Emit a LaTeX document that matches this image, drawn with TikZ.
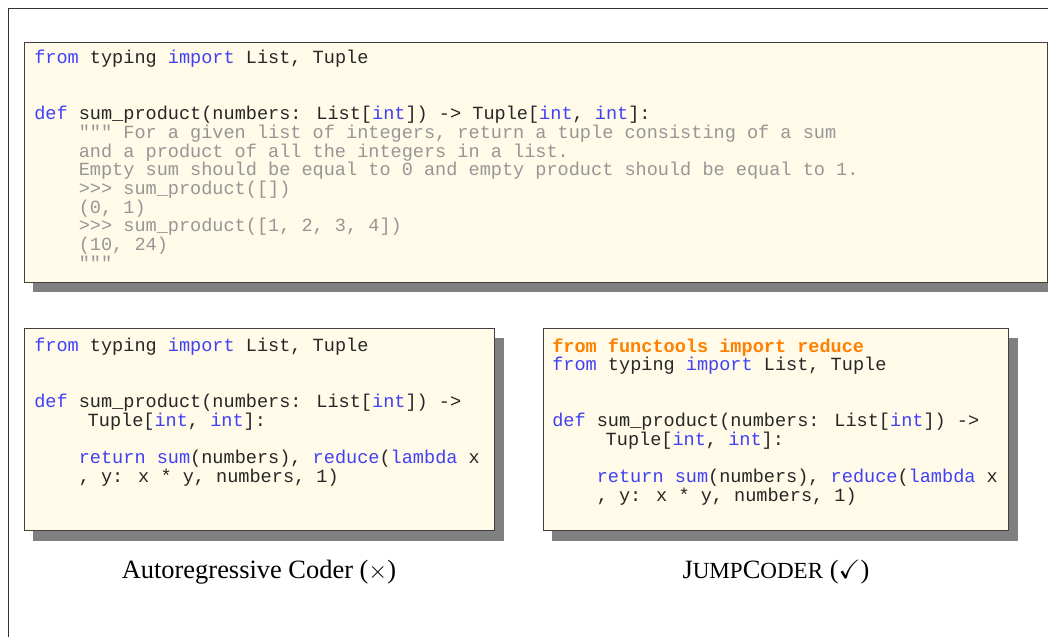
\documentclass[tikz,border=0pt]{standalone}
\usepackage{amssymb}
\usepackage{fontspec}
\setmainfont{Liberation Serif}
\newfontfamily\codefont{Liberation Mono}
\usetikzlibrary{shadows}

\definecolor{kwblue}{RGB}{64,64,245}
\definecolor{docgray}{RGB}{150,150,150}
\definecolor{addorange}{RGB}{255,128,0}
\definecolor{paper}{RGB}{255,251,232}

\newlength\codech
\setlength\codech{7.92pt}
\newcommand{\kw}[1]{\textcolor{kwblue}{#1}}
\newcommand{\ind}[1]{\hspace*{#1\codech}}

\tikzset{
  codebox/.style={draw=black!75, line width=0.7pt, fill=paper, inner sep=0pt, anchor=north west,
    drop shadow={shadow xshift=0.225cm, shadow yshift=-0.24cm, opacity=1, fill=black!50}},
  code/.style={font={\codefont\fontsize{13.2pt}{13.28pt}\selectfont}, text=black!85, align=left, inner sep=0pt, anchor=north west},
  caption/.style={font={\fontsize{18.8pt}{23pt}\selectfont}, anchor=base}
}

\begin{document}
\begin{tikzpicture}[x=0.025cm, y=-0.025cm]
    \useasboundingbox (0,0) rectangle (1048,637);

    % Frame
    \draw[black!80, line width=0.7pt] (1048,8) -- (8,8) -- (8,637);

    % Prompt
    \node[codebox, minimum width=25.575cm, minimum height=6cm] (promptbox) at (24,42) {};
    \node[code] (promptcode) at (34,50) {%
        \kw{from} typing \kw{import} List, Tuple\\[2\baselineskip]
        \kw{def} sum\_product(numbers: List[\kw{int}]) -> Tuple[\kw{int}, \kw{int}]:\\
        \textcolor{docgray}{\ind{4}""" For a given list of integers, return a tuple consisting of a sum}\\
        \textcolor{docgray}{\ind{4}and a product of all the integers in a list.}\\
        \textcolor{docgray}{\ind{4}Empty sum should be equal to 0 and empty product should be equal to 1.}\\
        \textcolor{docgray}{\ind{4}>>> sum\_product([])}\\
        \textcolor{docgray}{\ind{4}(0, 1)}\\
        \textcolor{docgray}{\ind{4}>>> sum\_product([1, 2, 3, 4])}\\
        \textcolor{docgray}{\ind{4}(10, 24)}\\
        \textcolor{docgray}{\ind{4}"""}};

    % Autoregressive output
    \node[codebox, minimum width=11.75cm, minimum height=5.06cm] (arbox) at (24,328) {};
    \node[code] (arcode) at (34,338) {%
        \kw{from} typing \kw{import} List, Tuple\\[2\baselineskip]
        \kw{def} sum\_product(numbers: List[\kw{int}]) ->\\
        \ind{4.8}Tuple[\kw{int}, \kw{int}]:\\[\baselineskip]
        \ind{4}\kw{return} \kw{sum}(numbers), \kw{reduce}(\kw{lambda} x\\
        \ind{4}, y: x * y, numbers, 1)};
    \node[caption] (arcap) at (259,578) {Autoregressive Coder ($\times$)};

    % JumpCoder output
    \node[codebox, minimum width=11.625cm, minimum height=5.06cm] (jcbox) at (543,328) {};
    \node[code] (jccode) at (552,338) {%
        \textcolor{addorange}{\bfseries from functools import reduce}\\
        \kw{from} typing \kw{import} List, Tuple\\[2\baselineskip]
        \kw{def} sum\_product(numbers: List[\kw{int}]) ->\\
        \ind{4.8}Tuple[\kw{int}, \kw{int}]:\\[\baselineskip]
        \ind{4}\kw{return} \kw{sum}(numbers), \kw{reduce}(\kw{lambda} x\\
        \ind{4}, y: x * y, numbers, 1)};
    \node[caption] (jccap) at (776,578) {J{\fontsize{16.4pt}{20pt}\selectfont UMP}C{\fontsize{16.4pt}{20pt}\selectfont ODER} ($\checkmark$)};
\end{tikzpicture}
\end{document}
